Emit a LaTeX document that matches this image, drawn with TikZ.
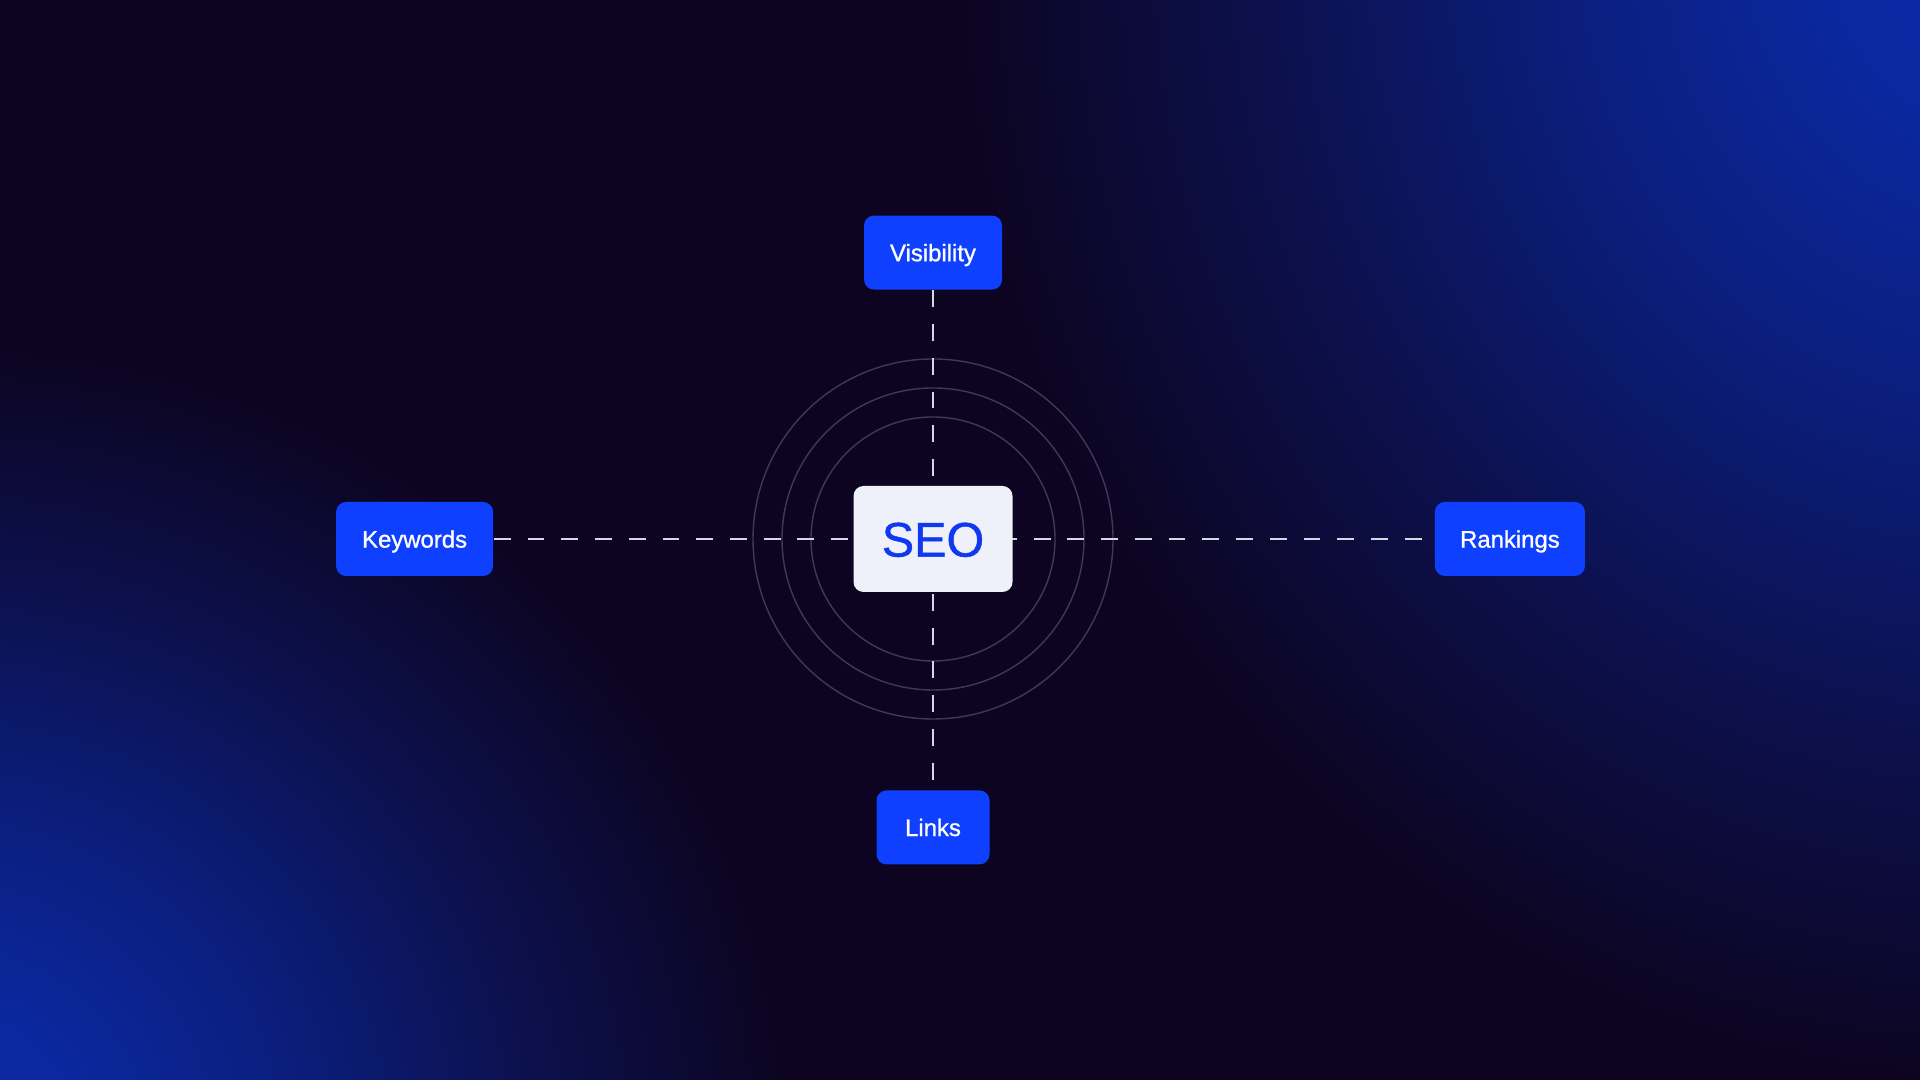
\documentclass[tikz,border=0pt]{standalone}
\usepackage{fontspec}
\setmainfont{Liberation Sans}
\newfontfamily\medfont[FakeBold=1.0]{Liberation Sans}
\usetikzlibrary{positioning}
\definecolor{bgdark}{HTML}{0C0420}
\definecolor{glowblue}{HTML}{0B2AA8}
\definecolor{tagblue}{HTML}{1040FF}
\definecolor{seofill}{HTML}{EEF0FA}
\definecolor{seotext}{HTML}{1038F0}
\definecolor{dashgray}{HTML}{D6D6E4}
\definecolor{ringgray}{HTML}{3E3A56}
\pgfdeclareradialshading{glow}{\pgfpoint{0bp}{0bp}}{color(0bp)=(glowblue); color(4bp)=(glowblue!94!bgdark); color(10bp)=(glowblue!70!bgdark); color(17bp)=(glowblue!35!bgdark); color(25bp)=(bgdark); color(50bp)=(bgdark)}
\pgfdeclarelayer{bg}
\pgfsetlayers{bg,main}

\begin{document}
\begin{tikzpicture}[
    tag/.style={fill=tagblue, text=white, rounded corners=0.1cm, minimum height=0.74cm, inner xsep=0pt, text height=4.9pt, text depth=0pt, font=\medfont\fontsize{6.8}{8}\selectfont},
    link/.style={dashgray, line width=0.6pt, dash pattern=on 4.8pt off 4.8pt},
    ring/.style={ringgray, line width=0.4pt}]
    \useasboundingbox (0,0) rectangle (19.2,10.8);
    \node[fill=seofill, text=seotext, rounded corners=0.1cm, minimum width=1.59cm, minimum height=1.06cm, text height=10pt, text depth=0pt, font=\medfont\fontsize{13.8}{15}\selectfont] (seo) at (9.33,5.41) {SEO};
    \node[tag, minimum width=1.38cm, above=1.95cm of seo] (visibility) {Visibility};
    \node[tag, minimum width=1.13cm, below=1.97cm of seo] (links) {Links};
    \node[tag, minimum width=1.57cm, left=3.59cm of seo] (keywords) {Keywords};
    \node[tag, minimum width=1.50cm, right=4.21cm of seo] (rankings) {Rankings};

    \begin{pgfonlayer}{bg}
    % background with two glows
    \fill[bgdark] (0,0) rectangle (19.2,10.8);
    \begin{scope}
        \clip (0,0) rectangle (19.2,10.8);
        \shade[shading=glow] (20.0,11.4) ellipse (10.5 and 11.5);
        \shade[shading=glow] (-0.6,-0.6) ellipse (8.5 and 8);
    \end{scope}
    % rings round the centre
    \foreach \r in {1.80,1.51,1.22}
        \draw[ring] (seo.center) circle (\r);
    \draw[link] (keywords.east) -- (rankings.west);
    \draw[link] (visibility.south) -- (links.north);
    \end{pgfonlayer}
\end{tikzpicture}
\end{document}
